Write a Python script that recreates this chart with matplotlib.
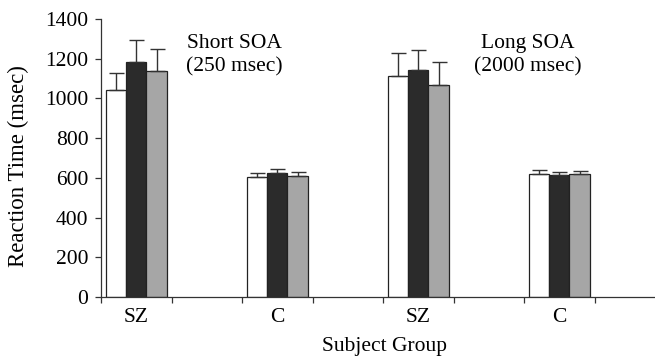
import matplotlib
matplotlib.use("Agg")
import matplotlib.pyplot as plt
import numpy as np

plt.rcParams['font.family'] = ['Liberation Serif', 'DejaVu Serif']

groups = ['SZ', 'C', 'SZ', 'C']
white = [1042, 604, 1113, 619]
white_err = [86, 20, 116, 21]
dark = [1183, 624, 1143, 614]
dark_err = [111, 21, 101, 16]
gray = [1138, 609, 1068, 619]
gray_err = [111, 21, 115, 16]
yticks = [0, 200, 400, 600, 800, 1000, 1200, 1400]

FS = 15.5
fig = plt.figure(figsize=(6.55, 3.57), dpi=100)
ax = fig.add_axes([101/655, 60/357, 554/655, 278/357])

centers = np.arange(len(groups)) * 2
w = 0.29
series = [(white, white_err, '#ffffff'), (dark, dark_err, '#2b2b2b'), (gray, gray_err, '#a6a6a6')]
for k, (vals, errs, col) in enumerate(series):
    x = centers + (k - 1) * w
    ax.bar(x, vals, width=w, color=col, edgecolor='#222222', linewidth=0.9, zorder=2)
    ax.errorbar(x, vals, yerr=[np.zeros(len(errs)), errs], fmt='none',
                ecolor='#333333', elinewidth=1.0, capsize=5.4, capthick=1.0, zorder=3)

ax.set_ylim(0, 1400)
ax.set_yticks(yticks)
ax.set_yticklabels([str(v) for v in yticks])
ax.set_xlim(-0.5, -0.5 + 554/70.5)
bounds = np.arange(-0.5, 7.0, 1.0)
ax.set_xticks(bounds)
ax.set_xticklabels([''] * len(bounds))
ax.set_xticks(centers, minor=True)
ax.set_xticklabels(groups, minor=True)
ax.tick_params(axis='x', which='major', direction='out', length=4, width=0.9, color='#333333')
ax.tick_params(axis='x', which='minor', length=0, pad=8, labelsize=FS)
ax.tick_params(axis='y', direction='out', length=4, width=0.9, color='#333333', pad=5, labelsize=FS)

for s in ['top', 'right']:
    ax.spines[s].set_visible(False)
for s in ['left', 'bottom']:
    ax.spines[s].set_linewidth(0.9)
    ax.spines[s].set_color('#333333')

fig.text(18/655, 1 - 166/357, 'Reaction Time (msec)', rotation=90, ha='center', va='center', fontsize=16.5)
fig.text(385/655, 1 - 351/357, 'Subject Group', ha='center', va='baseline', fontsize=FS)

ax.text(0.241, 0.945, 'Short SOA\n(250 msec)', transform=ax.transAxes, ha='center', va='top',
        fontsize=FS, linespacing=1.25, multialignment='center')
ax.text(0.770, 0.945, 'Long SOA\n(2000 msec)', transform=ax.transAxes, ha='center', va='top',
        fontsize=FS, linespacing=1.25, multialignment='center')

fig.savefig('out.png', dpi=100)
